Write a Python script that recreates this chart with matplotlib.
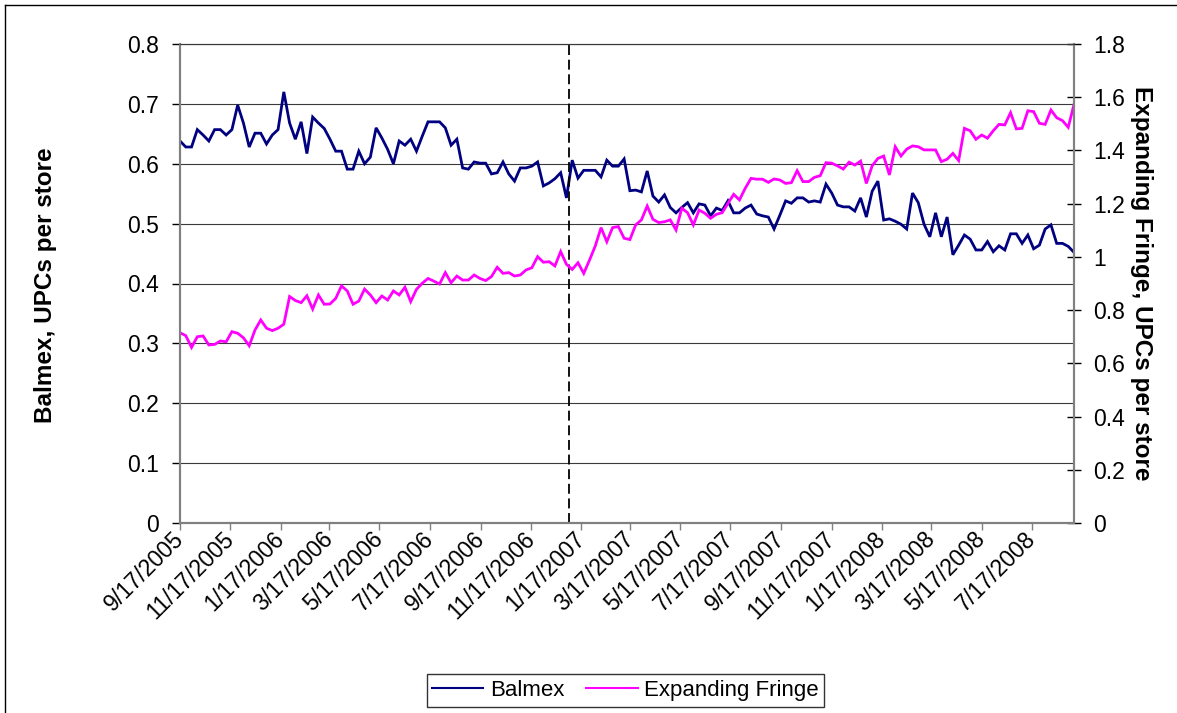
import matplotlib
matplotlib.use('Agg')
import matplotlib.pyplot as plt
from matplotlib.lines import Line2D
from matplotlib.ticker import FuncFormatter
from matplotlib.transforms import ScaledTranslation
import pandas as pd

# ---------------- data ----------------
start_date = '2005-09-17'   # weekly series
event_date = '2007-01-02'   # dashed vertical marker

balmex = [
    0.638, 0.628, 0.628, 0.657, 0.648, 0.638, 0.657, 0.657, 0.648, 0.657,
    0.698, 0.668, 0.628, 0.651, 0.651, 0.633, 0.648, 0.657, 0.720, 0.668,
    0.641, 0.670, 0.617, 0.678, 0.668, 0.659, 0.641, 0.621, 0.621, 0.591,
    0.591, 0.621, 0.600, 0.611, 0.660, 0.643, 0.624, 0.600, 0.638, 0.631,
    0.641, 0.621, 0.646, 0.670, 0.670, 0.670, 0.660, 0.631, 0.641, 0.593,
    0.591, 0.603, 0.601, 0.601, 0.583, 0.585, 0.603, 0.583, 0.571, 0.593,
    0.593, 0.596, 0.603, 0.563, 0.568, 0.575, 0.585, 0.543, 0.606, 0.576,
    0.589, 0.589, 0.589, 0.578, 0.606, 0.596, 0.596, 0.608, 0.555, 0.556,
    0.553, 0.588, 0.546, 0.536, 0.548, 0.527, 0.518, 0.527, 0.535, 0.518,
    0.533, 0.531, 0.513, 0.526, 0.522, 0.538, 0.518, 0.518, 0.526, 0.531,
    0.516, 0.513, 0.511, 0.491, 0.514, 0.538, 0.534, 0.543, 0.543, 0.536,
    0.538, 0.536, 0.566, 0.551, 0.531, 0.528, 0.528, 0.521, 0.543, 0.511,
    0.554, 0.571, 0.506, 0.508, 0.504, 0.499, 0.491, 0.551, 0.535, 0.499,
    0.478, 0.518, 0.478, 0.511, 0.448, 0.464, 0.481, 0.474, 0.456, 0.456,
    0.470, 0.453, 0.463, 0.456, 0.483, 0.483, 0.467, 0.481, 0.458, 0.464,
    0.491, 0.498, 0.467, 0.467, 0.462, 0.452,
]

fringe = [
    0.715, 0.704, 0.660, 0.700, 0.703, 0.669, 0.671, 0.684, 0.681, 0.719,
    0.713, 0.696, 0.666, 0.725, 0.763, 0.732, 0.723, 0.732, 0.747, 0.851,
    0.836, 0.828, 0.854, 0.804, 0.857, 0.822, 0.823, 0.844, 0.891, 0.872,
    0.822, 0.834, 0.879, 0.857, 0.828, 0.853, 0.838, 0.872, 0.857, 0.886,
    0.832, 0.878, 0.901, 0.919, 0.909, 0.898, 0.941, 0.903, 0.928, 0.913,
    0.913, 0.932, 0.919, 0.911, 0.926, 0.961, 0.938, 0.941, 0.928, 0.932,
    0.951, 0.959, 1.001, 0.980, 0.982, 0.966, 1.020, 0.972, 0.953, 0.978,
    0.938, 0.988, 1.041, 1.110, 1.057, 1.110, 1.114, 1.070, 1.065, 1.120,
    1.139, 1.191, 1.141, 1.129, 1.132, 1.139, 1.101, 1.183, 1.166, 1.120,
    1.176, 1.164, 1.145, 1.160, 1.166, 1.201, 1.235, 1.214, 1.258, 1.295,
    1.292, 1.292, 1.280, 1.293, 1.289, 1.276, 1.279, 1.324, 1.283, 1.283,
    1.299, 1.305, 1.354, 1.352, 1.342, 1.330, 1.356, 1.345, 1.360, 1.276,
    1.342, 1.370, 1.379, 1.308, 1.414, 1.379, 1.405, 1.417, 1.414, 1.402,
    1.402, 1.402, 1.358, 1.367, 1.389, 1.362, 1.483, 1.474, 1.442, 1.458,
    1.446, 1.474, 1.498, 1.496, 1.542, 1.481, 1.483, 1.549, 1.546, 1.502,
    1.498, 1.552, 1.523, 1.512, 1.487, 1.573,
]

tick_labels = [
    '9/17/2005', '11/17/2005', '1/17/2006', '3/17/2006', '5/17/2006',
    '7/17/2006', '9/17/2006', '11/17/2006', '1/17/2007', '3/17/2007',
    '5/17/2007', '7/17/2007', '9/17/2007', '11/17/2007', '1/17/2008',
    '3/17/2008', '5/17/2008', '7/17/2008',
]
left_ticks = [0, 0.1, 0.2, 0.3, 0.4, 0.5, 0.6, 0.7, 0.8]
right_ticks = [0, 0.2, 0.4, 0.6, 0.8, 1.0, 1.2, 1.4, 1.6, 1.8]

series_names = ['Balmex', 'Expanding Fringe']
left_label = 'Balmex, UPCs per store'
right_label = 'Expanding Fringe, UPCs per store'

# ---------------- figure ----------------
plt.rcParams['font.family'] = ['Liberation Sans', 'DejaVu Sans']
W, H = 1177, 713
fig = plt.figure(figsize=(W / 100, H / 100), dpi=100)
fig.patch.set_facecolor('white')

L, R, T, B = 180, 1074, 44, 523
ax = fig.add_axes([L / W, 1 - B / H, (R - L) / W, (B - T) / H])
ax2 = ax.twinx()

dates = pd.date_range(start_date, periods=len(balmex), freq='7D')
tick_dates = pd.to_datetime(tick_labels, format='%m/%d/%Y')

l1, = ax.plot(dates, balmex, color='#000080', lw=2.0, label=series_names[0],
              solid_joinstyle='miter')
l2, = ax2.plot(dates, fringe, color='#FF00FF', lw=2.0, label=series_names[1],
               solid_joinstyle='miter')
ax.axvline(pd.Timestamp(event_date), color='black', lw=1.3,
           linestyle=(0, (5.5, 2.6)), zorder=3)

ax.set_xlim(dates[0], dates[-1])
ax.set_ylim(left_ticks[0], left_ticks[-1])
ax2.set_ylim(right_ticks[0], right_ticks[-1])

fmt = FuncFormatter(lambda v, p: ('%g' % round(v, 2)))
ax.set_yticks(left_ticks)
ax.yaxis.set_major_formatter(fmt)
ax2.set_yticks(right_ticks)
ax2.yaxis.set_major_formatter(fmt)

for y in left_ticks[1:]:
    ax.axhline(y, color='#3a3a3a', lw=0.8, zorder=0.5)

ax.set_xticks(tick_dates)
ax.set_xticklabels(tick_labels, rotation=45, ha='right', va='center',
                   rotation_mode='anchor')
offset = ScaledTranslation(-2 / 100, -6 / 100, fig.dpi_scale_trans)
for lab in ax.get_xticklabels():
    lab.set_transform(lab.get_transform() + offset)

ax.tick_params(axis='x', direction='out', length=5, width=1, color='#808080',
               labelsize=16.5, pad=4)
ax.tick_params(axis='y', direction='out', length=6, width=1, color='#000000',
               labelsize=16.5, pad=9)
ax2.tick_params(axis='y', direction='inout', length=10, width=1,
                color='#000000', labelsize=16.5, pad=9)

for a in (ax, ax2):
    for s in a.spines.values():
        s.set_color('#808080')
        s.set_linewidth(1.5)
    a.spines['top'].set_color('#3a3a3a')
    a.spines['top'].set_linewidth(0.8)

fig.text(46 / W, 1 - 285 / H, left_label, rotation=90, ha='center',
         va='center', fontsize=17.5, fontweight='bold')
fig.text(1141 / W, 1 - 283 / H, right_label, rotation=270, ha='center',
         va='center', fontsize=17.5, fontweight='bold')

leg = fig.legend(handles=[l1, l2], loc='center', ncol=2,
                 bbox_to_anchor=(625.5 / W, 1 - 690.5 / H), fontsize=16,
                 frameon=True, fancybox=False, edgecolor='black',
                 handlelength=2.3, handletextpad=0.3, columnspacing=1.0,
                 borderpad=0.25)
leg.get_frame().set_linewidth(1.0)
for h in leg.get_lines():
    h.set_linewidth(1.5)

# outer chart-area border (left and top edges visible)
fig.add_artist(Line2D([5 / W, 5 / W], [0, 1 - 5 / H], transform=fig.transFigure,
                      color='black', lw=1))
fig.add_artist(Line2D([5 / W, 1], [1 - 5 / H, 1 - 5 / H],
                      transform=fig.transFigure, color='black', lw=1))

fig.savefig('out.png', dpi=100)
